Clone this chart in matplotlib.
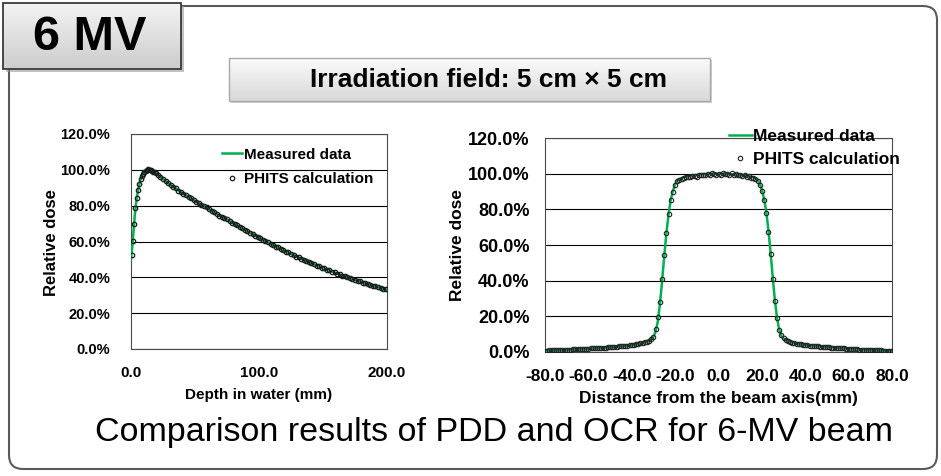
import numpy as np
import matplotlib.pyplot as plt
from matplotlib.patches import FancyBboxPatch, Rectangle
from matplotlib.colors import LinearSegmentedColormap

plt.rcParams['font.family'] = ['Liberation Sans', 'DejaVu Sans']

# ---- PDD (depth dose) ----
pdd_depth = [0, 1, 2, 3, 4, 5, 6, 7, 8, 9, 10, 12, 14, 15, 16, 18, 20, 25, 30, 40,
             50, 60, 70, 80, 90, 100, 110, 120, 130, 140, 150, 160, 170, 180, 190, 200]
pdd_meas = [50, 57, 66, 75, 81.5, 86.5, 90.5, 93.5, 95.8, 97.4, 98.5, 99.7, 100, 100, 99.8, 99.0, 97.8, 94.9, 92.0, 87.1,
            82.6, 78.4, 74.2, 70.1, 66.1, 62.2, 58.4, 54.8, 51.4, 48.2, 45.2, 42.4, 39.8, 37.4, 35.1, 33.0]

phits_depth = np.concatenate([np.arange(0.5, 20, 1.0), np.arange(21, 200, 2.0)])
phits_pdd = [52.6, 60.5, 70.0, 78.5, 84.5, 89.0, 92.3, 94.8, 96.6, 97.9,
             98.8, 99.5, 100.0, 100.3, 100.1, 99.9, 99.4, 99.0, 98.6, 98.0,
             97.3, 96.2, 94.8, 93.8, 92.5, 91.6, 90.4, 89.6, 88.4, 87.6,
             86.5, 85.8, 84.7, 84.0, 82.9, 82.3, 81.3, 80.6, 79.6, 79.0,
             77.9, 77.3, 76.2, 75.6, 74.5, 73.9, 72.9, 72.3, 71.2, 70.6,
             69.6, 69.0, 68.0, 67.4, 66.4, 65.8, 64.8, 64.2, 63.3, 62.7,
             61.7, 61.1, 60.2, 59.6, 58.7, 58.1, 57.2, 56.7, 55.8, 55.3,
             54.4, 53.9, 53.0, 52.5, 51.6, 51.2, 50.3, 49.9, 49.0, 48.6,
             47.8, 47.4, 46.6, 46.2, 45.4, 45.0, 44.3, 43.9, 43.1, 42.8,
             42.1, 41.7, 41.0, 40.7, 40.0, 39.7, 39.0, 38.7, 38.0, 37.7,
             37.1, 36.8, 36.1, 35.9, 35.3, 35.0, 34.4, 34.2, 33.5, 33.3]

# ---- OCR (off-axis profile) ----
ocr_pos = [-80, -70, -60, -50, -40, -35, -32, -30, -29, -28, -27, -26, -25, -24, -23, -22, -21, -20, -19, -18,
           -16, -12, -8, -4, 0, 4, 8, 12, 16, 18, 19, 20, 21, 22, 23, 24, 25, 26, 27, 28,
           29, 30, 32, 35, 40, 50, 60, 70, 80]
ocr_meas = [0.8, 1.2, 1.8, 2.6, 3.8, 5.0, 6.3, 8.5, 11.5, 17, 27, 40, 54, 67, 77.5, 85.5, 90.5, 94, 96, 97,
            98, 99, 99.6, 99.9, 100, 99.8, 99.5, 98.9, 98, 96.5, 94.5, 91, 86, 79, 68.5, 56, 42, 29, 19, 12.5,
            9, 7.5, 6.2, 5.0, 4.0, 2.8, 1.8, 1.1, 0.6]

phits_pos = np.arange(-80, 81, 1)
phits_ocr = [0.8, 0.8, 0.9, 0.9, 1.0, 1.0, 1.1, 1.1, 1.2, 1.2,
             1.3, 1.3, 1.4, 1.5, 1.5, 1.6, 1.6, 1.7, 1.8, 1.8,
             1.9, 2.0, 2.0, 2.1, 2.2, 2.3, 2.3, 2.4, 2.5, 2.6,
             2.7, 2.8, 2.9, 3.0, 3.1, 3.2, 3.3, 3.5, 3.6, 3.8,
             3.9, 4.1, 4.3, 4.5, 4.8, 5.1, 5.4, 5.8, 6.3, 7.1,
             8.6, 12.8, 19.5, 28.2, 41.0, 54.6, 66.8, 77.4, 85.2, 90.0,
             93.4, 95.8, 96.6, 97.2, 97.6, 97.9, 98.3, 97.9, 98.6, 98.9,
             98.4, 99.2, 99.0, 99.5, 99.1, 99.8, 99.4, 100.2, 99.6, 99.2,
             100.0, 99.5, 100.3, 99.6, 99.9, 99.3, 100.1, 99.4, 99.6, 99.0,
             99.3, 98.7, 99.0, 98.4, 98.5, 97.8, 97.6, 97.0, 95.8, 93.6,
             90.1, 85.0, 78.2, 67.5, 55.0, 41.2, 28.4, 19.2, 12.6, 9.4,
             7.7, 6.7, 6.1, 5.7, 5.3, 5.0, 4.7, 4.5, 4.3, 4.1,
             3.9, 3.8, 3.6, 3.5, 3.3, 3.2, 3.1, 3.0, 2.9, 2.8,
             2.7, 2.6, 2.5, 2.4, 2.3, 2.2, 2.1, 2.0, 2.0, 1.9,
             1.8, 1.7, 1.6, 1.6, 1.5, 1.4, 1.4, 1.3, 1.2, 1.2,
             1.1, 1.1, 1.0, 1.0, 0.9, 0.9, 0.8, 0.8, 0.7, 0.7,
             0.7]

pct_ticks = [0, 20, 40, 60, 80, 100, 120]
pct_labels = ['%.1f%%' % v for v in pct_ticks]

W, H = 941, 476
fig = plt.figure(figsize=(W / 100, H / 100), dpi=100)

# background decoration in pixel coordinates
bg = fig.add_axes([0, 0, 1, 1], zorder=0)
bg.axis('off')
bg.add_patch(FancyBboxPatch((9, 6), 928, 463, boxstyle='round,pad=0,rounding_size=14',
                            fc='white', ec='#5a5a5a', lw=1.5))

grey1 = LinearSegmentedColormap.from_list('g1', ['#f3f3f3', '#cdcdcd'])
grey2 = LinearSegmentedColormap.from_list('g2', ['#fbfbfb', '#d8d8d8'])
grad = np.linspace(0, 1, 64).reshape(-1, 1)

# "6 MV" tab
bg.add_patch(Rectangle((6, 6), 178, 66, fc='#9a9a9a', ec='none', alpha=0.6))
bg.imshow(grad, extent=(3, 181, 69, 3), cmap=grey1, aspect='auto', zorder=2)
bg.add_patch(Rectangle((3, 3), 178, 66, fc='none', ec='#3a3a3a', lw=1.3, zorder=3))
bg.text(90, 38, '6 MV', fontsize=35, fontweight='bold', ha='center', va='center', zorder=4)

# field size box
bg.add_patch(Rectangle((231, 60), 481, 43, fc='#b0b0b0', ec='none', alpha=0.6))
bg.imshow(grad, extent=(229, 710, 101, 58), cmap=grey2, aspect='auto', zorder=2)
bg.add_patch(Rectangle((229, 58), 481, 43, fc='none', ec='#a8a8a8', lw=1.0, zorder=3))
bg.text(489, 80, 'Irradiation field: 5 cm \u00d7 5 cm', fontsize=19, fontweight='bold',
        ha='center', va='center', zorder=4)

bg.text(494, 433, 'Comparison results of PDD and OCR for 6-MV beam', fontsize=24.5,
        ha='center', va='center')
bg.set_xlim(0, W)
bg.set_ylim(H, 0)

green = '#00b050'

# ---- left: PDD ----
ax1 = fig.add_axes([131 / W, 1 - 349 / H, 256 / W, 215 / H], zorder=2)
ax1.plot(pdd_depth, pdd_meas, color=green, lw=1.8, label='Measured data', zorder=3)
ax1.plot(phits_depth, phits_pdd, ls='none', marker='o', ms=3.2, mfc='none', mec='#1a1a1a',
         mew=0.9, label='PHITS calculation', zorder=4)
ax1.set_xlim(0, 200)
ax1.set_ylim(0, 120)
ax1.set_xticks([0, 100, 200])
ax1.set_xticklabels(['0.0', '100.0', '200.0'], fontsize=11, fontweight='bold')
ax1.set_yticks(pct_ticks)
ax1.set_yticklabels(pct_labels, fontsize=10.5, fontweight='bold')
ax1.tick_params(length=0)
ax1.tick_params(axis='y', pad=15)
ax1.tick_params(axis='x', pad=12)
ax1.grid(axis='y', color='black', lw=0.8)
for s in ax1.spines.values():
    s.set_color('#4a4a4a')
ax1.legend(loc='center left', bbox_to_anchor=(222 / W, 1 - 167 / H), bbox_transform=fig.transFigure,
           frameon=False, handlelength=1.3, handletextpad=0.15, labelspacing=0.7,
           borderpad=0, borderaxespad=0, numpoints=1, prop={'weight': 'bold', 'size': 11})
fig.text(52 / W, 1 - 243 / H, 'Relative dose', rotation=90, fontsize=12, fontweight='bold',
         ha='center', va='center')
fig.text(259 / W, 1 - 395 / H, 'Depth in water (mm)', fontsize=11, fontweight='bold',
         ha='center', va='center')

# ---- right: OCR ----
ax2 = fig.add_axes([545 / W, 1 - 352 / H, 347 / W, 214 / H], zorder=2)
ax2.plot(ocr_pos, ocr_meas, color=green, lw=1.8, label='Measured data', zorder=3)
ax2.plot(phits_pos, phits_ocr, ls='none', marker='o', ms=3.2, mfc='none', mec='#222222',
         mew=0.8, label='PHITS calculation', zorder=4)
ax2.set_xlim(-80, 80)
ax2.set_ylim(0, 120)
xt = list(range(-80, 81, 20))
ax2.set_xticks(xt)
ax2.set_xticklabels(['%.1f' % v for v in xt], fontsize=12.5, fontweight='bold')
ax2.set_yticks(pct_ticks)
ax2.set_yticklabels(pct_labels, fontsize=13, fontweight='bold')
ax2.tick_params(length=0)
ax2.tick_params(axis='y', pad=11)
ax2.tick_params(axis='x', pad=12)
ax2.grid(axis='y', color='black', lw=0.8)
for s in ax2.spines.values():
    s.set_color('#4a4a4a')
leg2 = ax2.legend(loc='center left', bbox_to_anchor=(729 / W, 1 - 148 / H), bbox_transform=fig.transFigure,
                  frameon=False, handlelength=1.3, handletextpad=0.1, labelspacing=0.5,
                  borderpad=0, borderaxespad=0, numpoints=1, prop={'weight': 'bold', 'size': 12.5})
leg2.set_zorder(5)
fig.text(457 / W, 1 - 245 / H, 'Relative dose', rotation=90, fontsize=12.5, fontweight='bold',
         ha='center', va='center')
fig.text(718 / W, 1 - 398 / H, 'Distance from the beam axis(mm)', fontsize=12.5, fontweight='bold',
         ha='center', va='center')

plt.savefig('out.png', dpi=100)
